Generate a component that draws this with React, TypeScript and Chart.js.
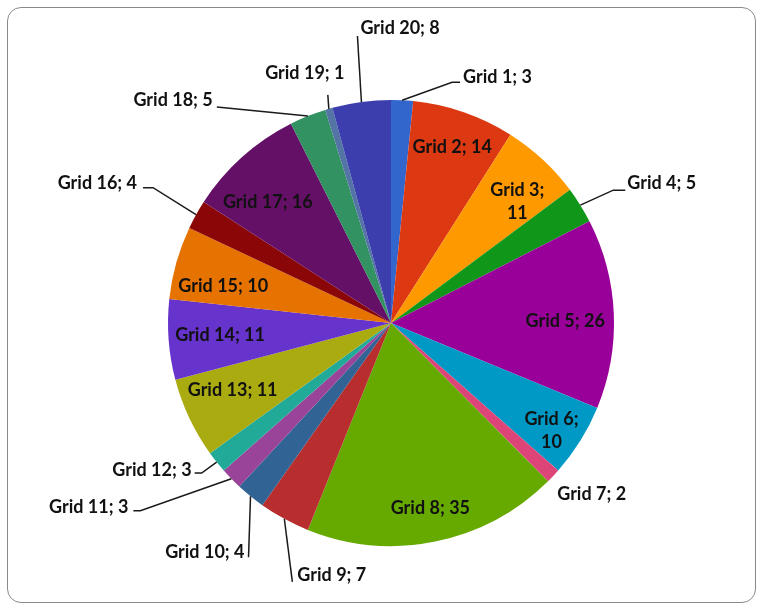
import React, { useEffect, useRef } from "react";
import { Chart, registerables } from "chart.js";

Chart.register(...registerables);

const categories = [
  "Grid 1", "Grid 2", "Grid 3", "Grid 4", "Grid 5", "Grid 6", "Grid 7", "Grid 8", "Grid 9", "Grid 10",
  "Grid 11", "Grid 12", "Grid 13", "Grid 14", "Grid 15", "Grid 16", "Grid 17", "Grid 18", "Grid 19", "Grid 20",
];
const values = [3, 14, 11, 5, 26, 10, 2, 35, 7, 4, 3, 3, 11, 11, 10, 4, 16, 5, 1, 8];
const colors = [
  "#3366cc", "#dc3912", "#ff9900", "#109618", "#990099", "#0099c6", "#dd4477", "#66aa00", "#b82e2e", "#316395",
  "#994499", "#22aa99", "#aaaa11", "#6633cc", "#e67300", "#8b0707", "#651067", "#329262", "#5574a6", "#3b3eac",
];

type InLabel = { mode: "in"; f: number; dx: number; dy: number; wrap?: boolean };
type OutLabel = { mode: "out"; pts: [number, number][]; tx: number; ty: number; align: CanvasTextAlign };
type LabelCfg = InLabel | OutLabel;

// label placement relative to the slice (inside: radius fraction + nudge; outside: offsets from the rim point)
const labelLayout: LabelCfg[] = [
  { mode: "out", pts: [[50, -18], [58, -18]], tx: 61, ty: -23, align: "left" },
  { mode: "in", f: 0.8, dx: 3, dy: -7 },
  { mode: "in", f: 0.8, dx: 5, dy: 9, wrap: true },
  { mode: "out", pts: [[33, -15], [45, -15]], tx: 47, ty: -22, align: "left" },
  { mode: "in", f: 0.8, dx: -4, dy: 6 },
  { mode: "in", f: 0.8, dx: 9, dy: 13, wrap: true },
  { mode: "out", pts: [], tx: 4, ty: 18, align: "left" },
  { mode: "in", f: 0.8, dx: 4, dy: 10 },
  { mode: "out", pts: [[8, 63]], tx: 13, ty: 56, align: "left" },
  { mode: "out", pts: [[-2, 61]], tx: -6, ty: 56, align: "right" },
  { mode: "out", pts: [[-91, 32], [-98, 32]], tx: -103, ty: 28, align: "right" },
  { mode: "out", pts: [[-15, 11], [-22, 11]], tx: -25, ty: 8, align: "right" },
  { mode: "in", f: 0.8, dx: 3, dy: -9 },
  { mode: "in", f: 0.8, dx: 7, dy: -1 },
  { mode: "in", f: 0.8, dx: 4, dy: 12 },
  { mode: "out", pts: [[-43, -27], [-53, -27]], tx: -59, ty: -32, align: "right" },
  { mode: "in", f: 0.8, dx: -4, dy: 12 },
  { mode: "out", pts: [[-91, -9]], tx: -95, ty: -16, align: "right" },
  { mode: "out", pts: [[-1, -14]], tx: -24, ty: -36, align: "center" },
  { mode: "out", pts: [[-4, -66]], tx: -1, ty: -74, align: "left" },
];

const FONT = "bold 18px Lato";

const labelPlugin = {
  id: "pieLabels",
  afterDatasetsDraw(chart: any) {
    const ctx: CanvasRenderingContext2D = chart.ctx;
    const meta = chart.getDatasetMeta(0);
    ctx.save();
    ctx.font = FONT;
    ctx.fillStyle = "#111111";
    ctx.strokeStyle = "#1a1a1a";
    ctx.lineWidth = 1.5;
    ctx.textBaseline = "middle";
    meta.data.forEach((arc: any, i: number) => {
      const { x, y, startAngle, endAngle, outerRadius } = arc.getProps(
        ["x", "y", "startAngle", "endAngle", "outerRadius"],
        true
      );
      const mid = (startAngle + endAngle) / 2;
      const cfg = labelLayout[i];
      const text = `${categories[i]}; ${values[i]}`;
      if (cfg.mode === "in") {
        const px = x + Math.cos(mid) * outerRadius * cfg.f + cfg.dx;
        const py = y + Math.sin(mid) * outerRadius * cfg.f + cfg.dy;
        ctx.textAlign = "center";
        if (cfg.wrap) {
          ctx.fillText(`${categories[i]};`, px, py - 11.5);
          ctx.fillText(`${values[i]}`, px, py + 11.5);
        } else {
          ctx.fillText(text, px, py);
        }
      } else {
        const ax = x + Math.cos(mid) * outerRadius;
        const ay = y + Math.sin(mid) * outerRadius;
        if (cfg.pts.length) {
          ctx.beginPath();
          ctx.moveTo(ax, ay);
          cfg.pts.forEach(([dx, dy]) => ctx.lineTo(ax + dx, ay + dy));
          ctx.stroke();
        }
        ctx.textAlign = cfg.align;
        ctx.fillText(text, ax + cfg.tx, ay + cfg.ty);
      }
    });
    ctx.restore();
  },
};

export default function App() {
  const ref = useRef<HTMLCanvasElement | null>(null);
  useEffect(() => {
    if (!ref.current) return;
    const chart = new Chart(ref.current, {
      type: "pie",
      data: {
        labels: categories,
        datasets: [
          {
            data: values,
            backgroundColor: colors,
            borderWidth: 0,
          },
        ],
      },
      options: {
        responsive: false,
        animation: false,
        layout: { padding: { top: 100, bottom: 61, left: 168, right: 148 } },
        plugins: {
          legend: { display: false },
          tooltip: { enabled: false },
        },
      },
      plugins: [labelPlugin],
    });
    return () => chart.destroy();
  }, []);
  return (
    <div style={{ position: "absolute", left: 0, top: 0, width: 762, height: 607, background: "#fff" }}>
      <div
        style={{
          position: "absolute",
          left: 7,
          top: 7,
          width: 749,
          height: 596,
          border: "1.5px solid #8a8a8a",
          borderRadius: 14,
          boxSizing: "border-box",
        }}
      />
      <canvas ref={ref} width={762} height={607} style={{ position: "absolute", left: 0, top: 0 }} />
    </div>
  );
}
